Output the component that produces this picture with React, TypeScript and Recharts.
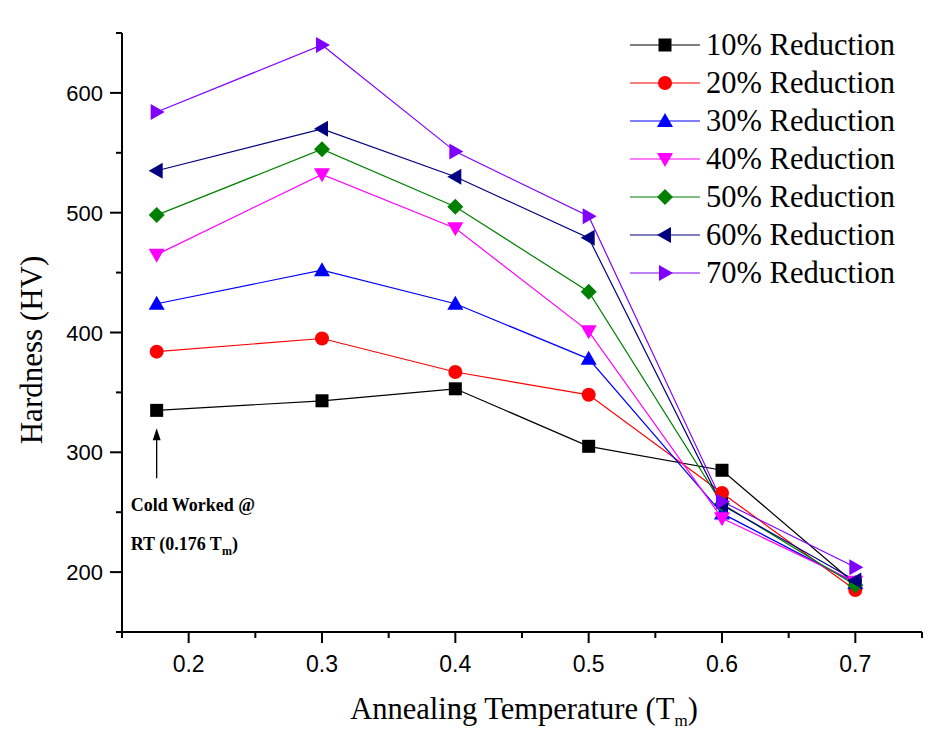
import React from 'react';
import { LineChart, Line, XAxis, YAxis, ReferenceDot } from 'recharts';

// annealing temperature (fraction of Tm)
const temps = [0.176, 0.3, 0.4, 0.5, 0.6, 0.7];

// hardness (HV) per cold-work reduction
const red10 = [335, 343, 353, 305, 285, 190];
const red20 = [384, 395, 367, 348, 266, 185];
const red30 = [424, 452, 424, 378, 249, 191];
const red40 = [465, 532, 487, 401, 245, 192];
const red50 = [498, 553, 505, 434, 257, 189];
const red60 = [535, 570, 530, 479, 256, 193];
const red70 = [584, 640, 551, 497, 259, 204];

const xTicks = [0.15, 0.2, 0.25, 0.3, 0.35, 0.4, 0.45, 0.5, 0.55, 0.6, 0.65, 0.7, 0.75];
const xLabels = ['0.2', '0.3', '0.4', '0.5', '0.6', '0.7'];
const yTicks = [150, 200, 250, 300, 350, 400, 450, 500, 550, 600, 650];
const yLabels = ['200', '300', '400', '500', '600'];

type Shape = 'square' | 'circle' | 'up' | 'down' | 'diamond' | 'left' | 'right';

const series: { key: string; name: string; color: string; shape: Shape; values: number[] }[] = [
  { key: 'r10', name: '10% Reduction', color: '#000000', shape: 'square', values: red10 },
  { key: 'r20', name: '20% Reduction', color: '#ff0000', shape: 'circle', values: red20 },
  { key: 'r30', name: '30% Reduction', color: '#0000ff', shape: 'up', values: red30 },
  { key: 'r40', name: '40% Reduction', color: '#ff00ff', shape: 'down', values: red40 },
  { key: 'r50', name: '50% Reduction', color: '#008000', shape: 'diamond', values: red50 },
  { key: 'r60', name: '60% Reduction', color: '#000080', shape: 'left', values: red60 },
  { key: 'r70', name: '70% Reduction', color: '#8000ff', shape: 'right', values: red70 },
];

const data = temps.map((t, i) => {
  const row: Record<string, number> = { temp: t };
  series.forEach(s => {
    row[s.key] = s.values[i];
  });
  return row;
});

const Marker = ({ shape, cx, cy, color }: { shape: Shape; cx: number; cy: number; color: string }) => {
  switch (shape) {
    case 'square':
      return <rect x={cx - 6.5} y={cy - 6.5} width={13} height={13} fill={color} />;
    case 'circle':
      return <circle cx={cx} cy={cy} r={7} fill={color} />;
    case 'up':
      return <polygon points={`${cx},${cy - 8} ${cx - 8},${cy + 6} ${cx + 8},${cy + 6}`} fill={color} />;
    case 'down':
      return <polygon points={`${cx},${cy + 8} ${cx - 8},${cy - 6} ${cx + 8},${cy - 6}`} fill={color} />;
    case 'diamond':
      return <polygon points={`${cx},${cy - 8} ${cx + 8},${cy} ${cx},${cy + 8} ${cx - 8},${cy}`} fill={color} />;
    case 'left':
      return <polygon points={`${cx - 8},${cy} ${cx + 6},${cy - 8} ${cx + 6},${cy + 8}`} fill={color} />;
    case 'right':
      return <polygon points={`${cx + 8},${cy} ${cx - 6},${cy - 8} ${cx - 6},${cy + 8}`} fill={color} />;
  }
  return null;
};

const XTick = (props: any) => {
  const { x, y, payload } = props;
  const label = payload.value.toFixed(1);
  const major = xLabels.includes(label) && Math.abs(payload.value * 10 - Math.round(payload.value * 10)) < 1e-6;
  return (
    <g>
      <line x1={x} x2={x} y1={y} y2={y + (major ? 11 : 6)} stroke="#000" strokeWidth={2} />
      {major && (
        <text x={x} y={y + 40} textAnchor="middle" fontFamily="Liberation Sans, Arial" fontSize={23} fill="#000">
          {label}
        </text>
      )}
    </g>
  );
};

const YTick = (props: any) => {
  const { x, y, payload } = props;
  const label = String(payload.value);
  const major = yLabels.includes(label);
  return (
    <g>
      <line x1={x} x2={x - (major ? 12 : 6)} y1={y} y2={y} stroke="#000" strokeWidth={2} />
      {major && (
        <text x={x - 19} y={y + 8} textAnchor="end" fontFamily="Liberation Sans, Arial" fontSize={22} fill="#000">
          {label}
        </text>
      )}
    </g>
  );
};

const ColdWorkNote = (props: any) => {
  const { cx, cy } = props;
  const f = 'Liberation Serif, Times New Roman';
  return (
    <g>
      <line x1={cx} x2={cx} y1={cy + 68} y2={cy + 28} stroke="#000" strokeWidth={1.3} />
      <polygon points={`${cx},${cy + 18} ${cx - 4},${cy + 30} ${cx + 4},${cy + 30}`} fill="#000" />
      <text x={cx - 26} y={cy + 101} fontFamily={f} fontWeight="bold" fontSize={18} fill="#000">
        Cold Worked @
      </text>
      <text x={cx - 26} y={cy + 140} fontFamily={f} fontWeight="bold" fontSize={18} fill="#000">
        RT (0.176 T<tspan fontSize={12} dy={5}>m</tspan>
        <tspan dy={-5}>)</tspan>
      </text>
    </g>
  );
};

const Legend = () => (
  <div style={{ position: 'absolute', left: 628, top: 26 }}>
    {series.map(s => (
      <div key={s.key} style={{ display: 'flex', alignItems: 'center', height: 38 }}>
        <svg width={76} height={38}>
          <line x1={2} x2={72} y1={19} y2={19} stroke={s.color} strokeWidth={1.2} />
          <Marker shape={s.shape} cx={37} cy={19} color={s.color} />
        </svg>
        <span style={{ fontFamily: 'Liberation Serif, Times New Roman', fontSize: 30.5, color: '#000', marginLeft: 2, lineHeight: '38px' }}>
          {s.name}
        </span>
      </div>
    ))}
  </div>
);

export default function App() {
  return (
    <div style={{ position: 'absolute', left: 0, top: 0, width: 928, height: 731, background: '#fff' }}>
      <LineChart width={928} height={731} data={data} margin={{ top: 33, right: 6, bottom: 0, left: 0 }}>
        <XAxis
          dataKey="temp"
          type="number"
          domain={[0.15, 0.75]}
          ticks={xTicks}
          interval={0}
          tick={<XTick />}
          tickLine={false}
          tickSize={0}
          tickMargin={0}
          height={99}
          axisLine={{ stroke: '#000', strokeWidth: 2 }}
        />
        <YAxis
          type="number"
          domain={[150, 650]}
          ticks={yTicks}
          interval={0}
          tick={<YTick />}
          tickLine={false}
          tickSize={0}
          tickMargin={0}
          width={122}
          axisLine={{ stroke: '#000', strokeWidth: 2 }}
        />
        {series.map(s => (
          <Line
            key={s.key}
            dataKey={s.key}
            name={s.name}
            stroke={s.color}
            strokeWidth={1.2}
            isAnimationActive={false}
            dot={(p: any) => <Marker key={`${s.key}-${p.index}`} shape={s.shape} cx={p.cx} cy={p.cy} color={s.color} />}
            activeDot={false}
          />
        ))}
        <ReferenceDot x={temps[0]} y={red10[0]} r={0} ifOverflow="visible" shape={<ColdWorkNote />} />
        <text x={42} y={350} transform="rotate(-90 42 350)" textAnchor="middle" fontFamily="Liberation Serif, Times New Roman" fontSize={31} fill="#000">
          Hardness (HV)
        </text>
        <text x={524} y={719} textAnchor="middle" fontFamily="Liberation Serif, Times New Roman" fontSize={30.5} fill="#000">
          Annealing Temperature (T<tspan fontSize={17} dy={7}>m</tspan>
          <tspan dy={-7}>)</tspan>
        </text>
      </LineChart>
      <Legend />
    </div>
  );
}
